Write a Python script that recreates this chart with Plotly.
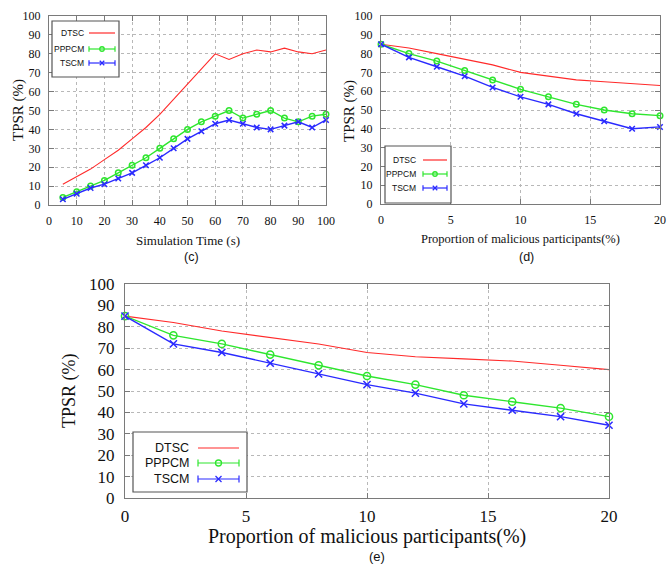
import plotly.graph_objects as go

W, H = 667, 564

# ---------------- data ----------------
time_s = [5, 10, 15, 20, 25, 30, 35, 40, 45, 50, 55, 60, 65, 70, 75, 80, 85, 90, 95, 100]
c_dtsc = [11, 15, 19, 24, 29, 35, 41, 48, 56, 64, 72, 80, 77, 80, 82, 81, 83, 81, 80, 82]
c_pppcm = [4, 7, 10, 13, 17, 21, 25, 30, 35, 40, 44, 47, 50, 46, 48, 50, 46, 44, 47, 48]
c_tscm = [3, 6, 9, 11, 14, 17, 21, 25, 30, 35, 39, 43, 45, 43, 41, 40, 42, 44, 41, 45]

malicious = [0, 2, 4, 6, 8, 10, 12, 14, 16, 18, 20]
d_dtsc = [85, 83, 80, 77, 74, 70, 68, 66, 65, 64, 63]
d_pppcm = [85, 80, 76, 71, 66, 61, 57, 53, 50, 48, 47]
d_tscm = [85, 78, 73, 68, 62, 57, 53, 48, 44, 40, 41]

e_dtsc = [85, 82, 78, 75, 72, 68, 66, 65, 64, 62, 60]
e_pppcm = [85, 76, 72, 67, 62, 57, 53, 48, 45, 42, 38]
e_tscm = [85, 72, 68, 63, 58, 53, 49, 44, 41, 38, 34]

series_names = ["DTSC", "PPPCM", "TSCM"]
y_ticks = list(range(0, 101, 10))
c_x_ticks = list(range(0, 101, 10))
d_x_ticks = [0, 5, 10, 15, 20]

RED = "#ff2a2a"
GREEN = "#2ee62e"
BLUE = "#2a2aff"
colors = [RED, GREEN, BLUE]
SERIF = "Liberation Serif"
SANS = "Liberation Sans"


def px(x):
    return x / W


def py(y):
    return 1 - y / H


fig = go.Figure()

panels = [
    ("x", "y", time_s, [c_dtsc, c_pppcm, c_tscm], 1.0),
    ("x2", "y2", malicious, [d_dtsc, d_pppcm, d_tscm], 1.0),
    ("x3", "y3", malicious, [e_dtsc, e_pppcm, e_tscm], 1.3),
]
for xa, ya, xs, ys_list, scale in panels:
    for name, ys, col in zip(series_names, ys_list, colors):
        if name == "DTSC":
            mode = "lines"
            marker = None
        elif name == "PPPCM":
            mode = "lines+markers"
            marker = dict(symbol="circle-open", size=5.5 * scale, color=col, line=dict(width=1.5, color=col))
        else:
            mode = "lines+markers"
            marker = dict(symbol="x-thin-open", size=5.5 * scale, color=col, line=dict(width=1.5, color=col))
        fig.add_trace(go.Scatter(
            x=xs, y=ys, name=name, mode=mode, xaxis=xa, yaxis=ya,
            line=dict(color=col, width=1.1 if name == "DTSC" else 1.4),
            marker=marker, showlegend=False, cliponaxis=False,
        ))

AX = "#7a7a7a"
GRID = "#b8b8b8"


def axis(domain, anchor, rng, ticks, fsize, standoff):
    return dict(
        domain=domain, anchor=anchor, range=rng, tickmode="array", tickvals=ticks,
        ticktext=[str(t) for t in ticks], showgrid=True, gridcolor=GRID, griddash="dot",
        gridwidth=1, showline=True, linecolor=AX, linewidth=1.2, mirror="ticks",
        ticks="inside", ticklen=5, tickcolor=AX, zeroline=False, automargin=False,
        tickfont=dict(family=SERIF, size=fsize, color="#111"), ticklabelstandoff=standoff,
    )


# panel (c)
cx = [px(49), px(326)]
cy = [py(205), py(16)]
# panel (d)
dx = [px(381), px(660)]
dy = [py(204), py(16)]
# panel (e)
ex = [px(125), px(609)]
ey = [py(498), py(284)]

fig.update_layout(
    template="none",
    width=W, height=H, margin=dict(l=0, r=0, t=0, b=0, autoexpand=False),
    paper_bgcolor="white", plot_bgcolor="white",
    font=dict(family=SERIF, color="#111"),
    xaxis=axis(cx, "y", [0, 100], c_x_ticks, 12, 4),
    yaxis=axis(cy, "x", [0, 100], y_ticks, 12, 5),
    xaxis2=axis(dx, "y2", [0, 20], d_x_ticks, 12, 4),
    yaxis2=axis(dy, "x2", [0, 100], y_ticks, 12, 5),
    xaxis3=axis(ex, "y3", [0, 20], d_x_ticks, 17, 2),
    yaxis3=axis(ey, "x3", [0, 100], y_ticks, 17, 6),
)

ann = []


def text(x, y, s, size, family=SERIF, angle=0, xanchor="center"):
    ann.append(dict(x=px(x), y=py(y), xref="paper", yref="paper", text=s, showarrow=False,
                    font=dict(family=family, size=size, color="#111"), textangle=angle,
                    xanchor=xanchor, yanchor="middle"))


# titles
text(188, 241, "Simulation Time (s)", 13)
text(192, 257, "(c)", 12.5, SANS)
text(18, 110, "TPSR (%)", 15, angle=-90)

text(520, 239, "Proportion of malicious participants(%)", 12.5)
text(526, 257, "(d)", 12.5, SANS)
text(350, 111, "TPSR (%)", 15, angle=-90)

text(367, 536, "Proportion of malicious participants(%)", 20)
text(377, 556, "(e)", 13, SANS)
text(69, 391, "TPSR (%)", 18, angle=-90)

shapes = []


def legend(box, text_right, line_x, rows, fsize, msize):
    x0, y0, x1, y1 = box
    shapes.append(dict(type="rect", xref="paper", yref="paper", x0=px(x0), x1=px(x1),
                       y0=py(y1), y1=py(y0), line=dict(color="#555", width=1.2),
                       fillcolor="white", layer="above"))
    lx0, lx1 = line_x
    mid = (lx0 + lx1) / 2
    for name, col, ry in zip(series_names, colors, rows):
        text(text_right, ry, name, fsize, SANS, xanchor="right")
        shapes.append(dict(type="line", xref="paper", yref="paper", x0=px(lx0), x1=px(lx1),
                           y0=py(ry), y1=py(ry), line=dict(color=col, width=1.2), layer="above"))
        if name != "DTSC":
            for ex_ in (lx0, lx1):
                shapes.append(dict(type="line", xref="paper", yref="paper", x0=px(ex_), x1=px(ex_),
                                   y0=py(ry - msize * 0.6), y1=py(ry + msize * 0.6),
                                   line=dict(color=col, width=1.2), layer="above"))
        if name == "PPPCM":
            r = msize / 2
            shapes.append(dict(type="circle", xref="paper", yref="paper", x0=px(mid - r), x1=px(mid + r),
                               y0=py(ry + r), y1=py(ry - r), line=dict(color=col, width=1.3), layer="above"))
        elif name == "TSCM":
            r = msize / 2
            for b in (1, -1):
                shapes.append(dict(type="line", xref="paper", yref="paper", x0=px(mid - r), x1=px(mid + r),
                                   y0=py(ry - r * b), y1=py(ry + r * b), line=dict(color=col, width=1.3),
                                   layer="above"))


legend((52, 21, 119, 77), 86, (89, 115), [33, 49, 63], 8.5, 4.5)
legend((385, 146, 451, 203), 418, (423, 447), [160, 174, 188], 8.5, 4.5)
legend((133, 432, 247, 492), 191, (198, 239), [448, 463, 479], 12.5, 6)

fig.update_layout(annotations=ann, shapes=shapes)
fig.write_html(
    "out.html",
    config={"displayModeBar": False},
    post_script="document.body.style.margin='0';document.body.style.padding='0';"
                "document.documentElement.style.overflow='hidden';",
)
